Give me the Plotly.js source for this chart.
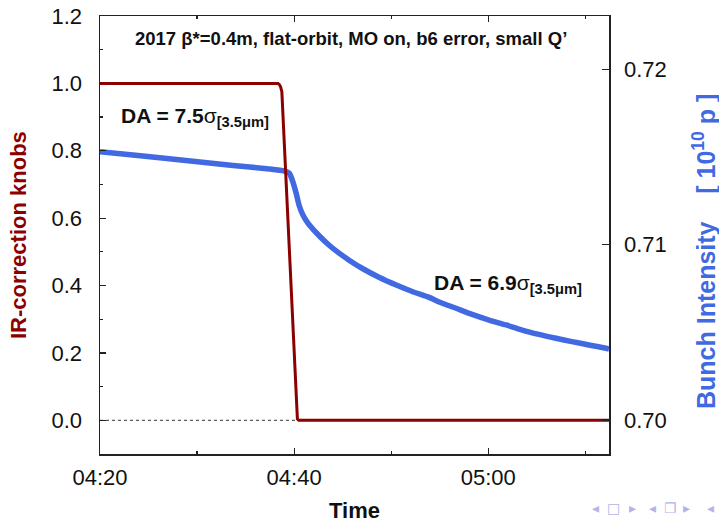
<!DOCTYPE html>
<html>
<head>
<meta charset="utf-8">
<script src="https://cdn.plot.ly/plotly-3.0.1.min.js"></script>
<style>html,body{margin:0;padding:0;background:#fff;}#chart{width:719px;height:522px;}</style>
</head>
<body>
<div id="chart"></div>
<script>
// IR-correction knobs (left axis)
const knobTime = ["2017-06-01 04:20:00","2017-06-01 04:38:20","2017-06-01 04:38:28","2017-06-01 04:38:36","2017-06-01 04:38:44","2017-06-01 04:40:14","2017-06-01 04:40:20","2017-06-01 04:40:28","2017-06-01 05:12:26"];
const knobValue = [1.0, 1.0, 0.997, 0.99, 0.975, 0.02, 0.004, 0.0, 0.0];

// Bunch intensity [1e10 p] (right axis)
const intTime = ["2017-06-01 04:20:00","2017-06-01 04:23:24","2017-06-01 04:26:54","2017-06-01 04:30:18","2017-06-01 04:33:42","2017-06-01 04:37:12","2017-06-01 04:39:00","2017-06-01 04:39:30","2017-06-01 04:39:48","2017-06-01 04:40:12","2017-06-01 04:40:30","2017-06-01 04:40:51","2017-06-01 04:41:10","2017-06-01 04:41:34","2017-06-01 04:42:36","2017-06-01 04:43:38","2017-06-01 04:44:40","2017-06-01 04:45:42","2017-06-01 04:47:02","2017-06-01 04:48:47","2017-06-01 04:50:31","2017-06-01 04:52:10","2017-06-01 04:53:54","2017-06-01 04:54:56","2017-06-01 04:56:41","2017-06-01 04:58:20","2017-06-01 05:00:05","2017-06-01 05:01:50","2017-06-01 05:03:29","2017-06-01 05:05:13","2017-06-01 05:06:58","2017-06-01 05:08:37","2017-06-01 05:10:22","2017-06-01 05:12:07","2017-06-01 05:12:26"];
const intValue = [0.7153,0.71511,0.71491,0.71471,0.71452,0.71433,0.7142,0.71407,0.71369,0.71295,0.71226,0.71175,0.71143,0.71112,0.71049,0.70995,0.7095,0.7091,0.70864,0.70813,0.7077,0.70733,0.70699,0.70673,0.70637,0.70602,0.7057,0.70542,0.70513,0.70488,0.70466,0.70447,0.70428,0.70409,0.70405];

const xTickVals = ["2017-06-01 04:20:00","2017-06-01 04:40:00","2017-06-01 05:00:00"];
const xTickText = ["04:20","04:40","05:00"];
const leftTickVals = [0.0,0.2,0.4,0.6,0.8,1.0,1.2];
const rightTickVals = [0.70,0.71,0.72];

// beamer navigation glyphs (decoration at the bottom right)
const navGlyphs = ["◂","□","▸","◂","❐","▸","◂"];
const navX = [595,613,632,652,670,686,710];

const FONT = "Liberation Sans, Arial, Helvetica, sans-serif";
const RED = "#8b0000";
const BLUE = "#4169e1";

const traces = [
  {x: intTime, y: intValue, yaxis: "y", mode: "lines", line: {color: BLUE, width: 5.5, shape: "spline", smoothing: 0.6}, hoverinfo: "skip"},
  {x: knobTime, y: knobValue, yaxis: "y2", mode: "lines", line: {color: RED, width: 3}, hoverinfo: "skip"}
];

const annotations = [
  {text: "<b>2017 β*=0.4m, flat-orbit, MO on, b6 error, small Q’</b>", xref: "paper", yref: "paper",
   x: (351-100)/509, y: (454-38)/438, xanchor: "center", yanchor: "middle", showarrow: false,
   font: {size: 18.5, color: "#111", family: FONT}},
  {text: "<b>DA = 7.5</b>σ<sub><b>[3.5μm]</b></sub>", xref: "x", yref: "y2",
   x: "2017-06-01 04:22:00", y: 0.9, xanchor: "left", yanchor: "middle", showarrow: false,
   font: {size: 21, color: "#111", family: FONT}},
  {text: "<b>DA = 6.9</b>σ<sub><b>[3.5μm]</b></sub>", xref: "x", yref: "y2",
   x: "2017-06-01 04:54:15", y: 0.405, xanchor: "left", yanchor: "middle", showarrow: false,
   font: {size: 21, color: "#111", family: FONT}},
  {text: "<b>IR-correction knobs</b>", xref: "paper", yref: "paper",
   x: (18-100)/509, y: 0.5, xanchor: "center", yanchor: "middle", textangle: -90, showarrow: false,
   font: {size: 22, color: RED, family: FONT}},
  {text: "<b>Bunch Intensity\u00a0\u00a0\u00a0\u00a0[\u00a010<sup>10</sup>\u00a0p\u00a0]</b>", xref: "paper", yref: "paper",
   x: (704-100)/509, y: (454-252)/438, xanchor: "center", yanchor: "middle", textangle: -90, showarrow: false,
   font: {size: 25, color: BLUE, family: FONT}},
  {text: "<b>Time</b>", xref: "paper", yref: "paper",
   x: 0.5, y: (454-510)/438, xanchor: "center", yanchor: "middle", showarrow: false,
   font: {size: 22, color: "#111", family: FONT}}
];
navGlyphs.forEach((g, i) => annotations.push({
  text: g, xref: "paper", yref: "paper", x: (navX[i]-100)/509, y: (454-508)/438,
  xanchor: "center", yanchor: "middle", showarrow: false,
  font: {size: 14, color: "#b4b4e6", family: "DejaVu Sans, sans-serif"}
}));

const layout = {
  width: 719, height: 522,
  margin: {l: 100, r: 110, t: 16, b: 68},
  paper_bgcolor: "#fff", plot_bgcolor: "#fff",
  showlegend: false,
  font: {family: FONT, size: 22, color: "#111"},
  xaxis: {
    type: "date",
    range: ["2017-06-01 04:20:00", "2017-06-01 05:12:26"],
    tickvals: xTickVals, ticktext: xTickText,
    ticks: "inside", ticklen: 6, tickwidth: 1.2, tickcolor: "#222",
    minor: {dtick: 600000, tick0: "2017-06-01 04:20:00", ticks: "inside", ticklen: 3, tickcolor: "#222"},
    showline: true, linecolor: "#222", linewidth: 1.5, mirror: "ticks",
    showgrid: false, zeroline: false,
    tickfont: {size: 22, color: "#111"},
    ticklabelstandoff: 3
  },
  yaxis: {
    side: "right",
    range: [0.69806, 0.72304],
    tickvals: rightTickVals, tickformat: ".2f",
    ticks: "inside", ticklen: 7, tickwidth: 1.2, tickcolor: "#222",
    showline: true, linecolor: "#222", linewidth: 1.5,
    showgrid: false, zeroline: false,
    tickfont: {size: 22, color: "#111"},
    ticklabelstandoff: 9
  },
  yaxis2: {
    side: "left", overlaying: "y",
    range: [-0.1, 1.2],
    tickvals: leftTickVals, tickformat: ".1f",
    ticks: "inside", ticklen: 6, tickwidth: 1.2, tickcolor: "#222",
    minor: {dtick: 0.1, tick0: 0, ticks: "inside", ticklen: 3, tickcolor: "#222"},
    showline: true, linecolor: "#222", linewidth: 1.5,
    showgrid: false, zeroline: false,
    tickfont: {size: 22, color: "#111"},
    ticklabelstandoff: 12
  },
  shapes: [
    {type: "line", xref: "paper", x0: 0, x1: 1, yref: "y2", y0: 0, y1: 0, layer: "below",
     line: {color: "#333", width: 1, dash: "dot"}}
  ],
  annotations: annotations
};

Plotly.newPlot("chart", traces, layout, {staticPlot: true, displayModeBar: false});
</script>
</body>
</html>
